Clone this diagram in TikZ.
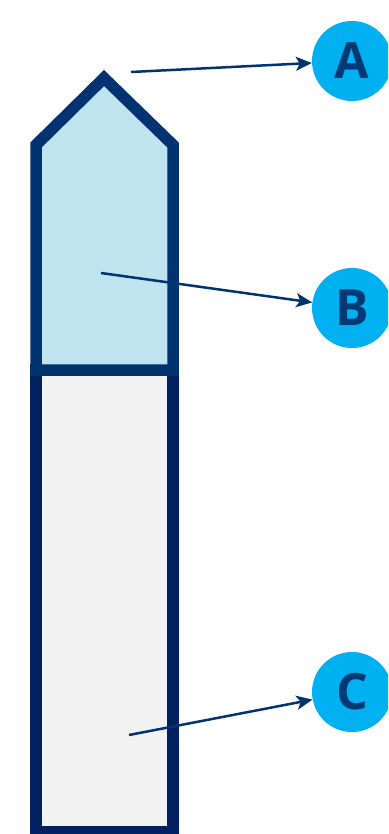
\documentclass[tikz,border=0pt]{standalone}
\usepackage{fontspec}
\setmainfont{Open Sans}
\usetikzlibrary{arrows.meta}
\definecolor{upnavy}{HTML}{003370}
\definecolor{lownavy}{HTML}{002060}
\definecolor{upfill}{HTML}{BFE4F0}
\definecolor{lowfill}{HTML}{F2F2F2}
\definecolor{badge}{HTML}{00B0F0}
\definecolor{letter}{HTML}{003A75}
\tikzset{
  badgenode/.style={circle,fill=badge,minimum size=80pt,inner sep=0pt,font=\fontsize{50}{50}\selectfont\bfseries,text=letter},
  pointer/.style={draw=upnavy,line width=2.5pt,-{Stealth[length=16pt,width=14pt,inset=4pt]}},
}
\begin{document}
\begin{tikzpicture}[x=1pt,y=-1pt]
\useasboundingbox (0,0) rectangle (388,834);
\begin{scope}
\clip (0,0) rectangle (388,834);
% lower body
\draw[lownavy,fill=lowfill,line width=11.5pt] (36,370) -- (36,832) -- (173,832) -- (173,370) -- cycle;
% upper cap
\draw[upnavy,fill=upfill,line width=11.5pt,line join=miter] (36,370) -- (36,145) -- (104,78) -- (173,145) -- (173,370) -- cycle;
% badges
\node[badgenode] (A) at (352,61) {A};
\node[badgenode] (B) at (352,308) {B};
\node[badgenode] (C) at (352,692) {C};
\coordinate (pa) at (131,72);
\coordinate (pb) at (101,273);
\coordinate (pc) at (129,735);
\draw[pointer] (pa) -- (A);
\draw[pointer] (pb) -- (B);
\draw[pointer] (pc) -- (C);
\end{scope}
\end{tikzpicture}
\end{document}
